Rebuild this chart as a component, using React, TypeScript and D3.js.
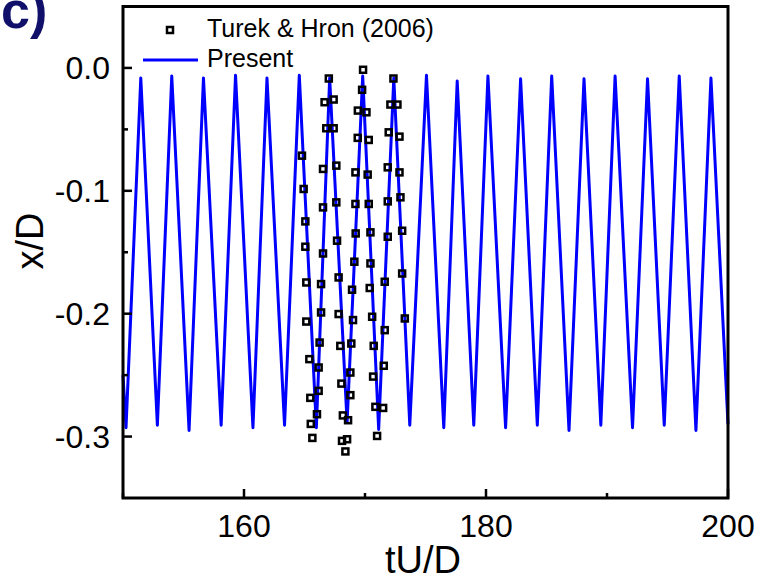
import { useEffect, useRef } from "react";
import * as d3 from "d3";

// Present simulation: x/D of the flag tip vs tU/D (peaks and troughs)
const presentTime = [
  150.0, 150.25, 151.47, 152.84, 154.03, 155.46, 156.65, 158.11, 159.3, 160.74,
  161.9, 163.35, 164.57, 165.98, 167.08, 168.52, 169.81, 171.13, 172.38, 173.7,
  175.08, 176.51, 177.62, 178.99, 180.16, 181.62, 182.86, 184.24, 185.43, 186.86,
  188.1, 189.49, 190.67, 192.11, 193.35, 194.73, 195.97, 197.35, 198.59, 200.0,
];
const presentX = [
  -0.25, -0.2928, -0.0082, -0.2907, -0.0066, -0.295, -0.0082, -0.2907, -0.006, -0.2928,
  -0.0082, -0.2907, -0.006, -0.2928, -0.0082, -0.2885, -0.0066, -0.2942, -0.0082, -0.2907,
  -0.006, -0.2928, -0.0107, -0.2907, -0.0066, -0.2928, -0.0088, -0.2907, -0.0066, -0.295,
  -0.0088, -0.2907, -0.0066, -0.2928, -0.0088, -0.2907, -0.0066, -0.295, -0.0082, -0.29,
];

// Turek & Hron (2006) reference points
const refTime = [
  164.79, 164.93, 165.07, 165.07, 165.15, 165.15, 165.4, 165.48, 165.52, 165.65,
  166.03, 166.17, 166.17, 166.25, 166.37, 166.37, 166.53, 166.53, 166.53, 166.8,
  166.66, 167.01, 167.41, 167.41, 167.63, 167.63, 167.69, 167.82, 167.82, 167.96,
  168.05, 168.17, 168.1, 168.52, 168.38, 168.6, 168.79, 168.79, 168.87, 169.01,
  168.93, 169.12, 169.23, 169.21, 169.21, 169.4, 169.41, 169.76, 169.84, 170.12,
  170.31, 170.22, 170.31, 170.45, 170.45, 170.39, 170.59, 170.72, 170.67, 170.86,
  171.0, 171.5, 171.55, 171.63, 171.63, 171.88, 171.88, 171.88, 171.96, 172.1,
  172.35, 172.68, 172.85, 172.85, 172.93, 173.07, 173.07, 173.29,
];
const refX = [
  -0.0714, -0.0985, -0.1249, -0.1455, -0.1746, -0.2064, -0.237, -0.2685, -0.2897, -0.3011,
  -0.2818, -0.2628, -0.2438, -0.2235, -0.199, -0.1759, -0.151, -0.1135, -0.0822, -0.0491,
  -0.0279, -0.0086, -0.0257, -0.0491, -0.0795, -0.1094, -0.1406, -0.1705, -0.2003, -0.2262,
  -0.2569, -0.2828, -0.3035, -0.3022, -0.3121, -0.2867, -0.2663, -0.2479, -0.2243, -0.2052,
  -0.1805, -0.1577, -0.1347, -0.1107, -0.085, -0.0569, -0.0347, -0.0178, -0.0015, -0.0361,
  -0.0586, -0.0868, -0.1107, -0.1338, -0.1591, -0.1791, -0.2025, -0.2262, -0.2512, -0.2758,
  -0.2995, -0.2767, -0.2424, -0.2134, -0.174, -0.1374, -0.1086, -0.0809, -0.0524, -0.0298,
  -0.0086, -0.0298, -0.0559, -0.085, -0.1053, -0.1325, -0.1673, -0.2039,
];

const xMajor = [160, 180, 200];
const xMinor = [150, 170, 190];
const yMajor = [0, -0.1, -0.2, -0.3];
const yMinor = [-0.05, -0.15, -0.25];

const FONT = "'Liberation Sans', Arial, sans-serif";

export default function App() {
  const svgRef = useRef<SVGSVGElement>(null);
  const width = 762;
  const height = 577;
  const plot = { left: 123, right: 728, top: 6.5, bottom: 498 };

  useEffect(() => {
    const svg = d3.select(svgRef.current);
    svg.selectAll("*").remove();

    const x = d3.scaleLinear().domain([150, 200]).range([plot.left, plot.right]);
    const y = d3.scaleLinear().domain([-0.35, 0.05]).range([plot.bottom, plot.top]);

    // present curve
    const pts = presentTime.map((t, i) => [t, presentX[i]] as [number, number]);
    const line = d3
      .line<[number, number]>()
      .x((d) => x(d[0]))
      .y((d) => y(d[1]));
    svg
      .append("path")
      .attr("d", line(pts))
      .attr("fill", "none")
      .attr("stroke", "#0000ff")
      .attr("stroke-width", 3)
      .attr("stroke-linejoin", "round");

    // reference squares
    const sq = 6;
    svg
      .append("g")
      .selectAll("rect")
      .data(refTime.map((t, i) => [t, refX[i]]))
      .join("rect")
      .attr("x", (d) => x(d[0]) - sq / 2)
      .attr("y", (d) => y(d[1]) - sq / 2)
      .attr("width", sq)
      .attr("height", sq)
      .attr("fill", "none")
      .attr("stroke", "#000")
      .attr("stroke-width", 2.5);

    // frame
    svg
      .append("rect")
      .attr("x", plot.left)
      .attr("y", plot.top)
      .attr("width", plot.right - plot.left)
      .attr("height", plot.bottom - plot.top)
      .attr("fill", "none")
      .attr("stroke", "#000")
      .attr("stroke-width", 3);

    // bottom axis ticks (inward)
    const xAxis = svg.append("g").attr("stroke", "#000").attr("stroke-width", 2.5);
    xMajor.forEach((v) =>
      xAxis.append("line").attr("x1", x(v)).attr("x2", x(v)).attr("y1", plot.bottom).attr("y2", plot.bottom - 9)
    );
    xMinor.forEach((v) =>
      xAxis.append("line").attr("x1", x(v)).attr("x2", x(v)).attr("y1", plot.bottom).attr("y2", plot.bottom - 5)
    );
    svg
      .append("g")
      .selectAll("text")
      .data(xMajor)
      .join("text")
      .attr("x", (d) => x(d))
      .attr("y", 536.5)
      .attr("text-anchor", "middle")
      .attr("font-family", FONT)
      .attr("font-size", 32)
      .text((d) => d3.format("d")(d));

    // left axis ticks (inward)
    const yAxis = svg.append("g").attr("stroke", "#000").attr("stroke-width", 2.5);
    yMajor.forEach((v) =>
      yAxis.append("line").attr("x1", plot.left).attr("x2", plot.left + 9).attr("y1", y(v)).attr("y2", y(v))
    );
    yMinor.forEach((v) =>
      yAxis.append("line").attr("x1", plot.left).attr("x2", plot.left + 5).attr("y1", y(v)).attr("y2", y(v))
    );
    svg
      .append("g")
      .selectAll("text")
      .data(yMajor)
      .join("text")
      .attr("x", 110)
      .attr("y", (d) => y(d) + 11.5)
      .attr("text-anchor", "end")
      .attr("font-family", FONT)
      .attr("font-size", 32)
      .text((d) => d3.format(".1f")(d).replace("−", "-"));

    // axis titles
    svg
      .append("text")
      .attr("x", 423)
      .attr("y", 573)
      .attr("text-anchor", "middle")
      .attr("font-family", FONT)
      .attr("font-size", 38)
      .text("tU/D");
    svg
      .append("text")
      .attr("transform", `translate(43,241) rotate(-90)`)
      .attr("text-anchor", "middle")
      .attr("font-family", FONT)
      .attr("font-size", 38)
      .text("x/D");

    // panel label
    svg
      .append("text")
      .attr("x", 1)
      .attr("y", 28)
      .attr("font-family", FONT)
      .attr("font-weight", "bold")
      .attr("font-size", 52)
      .attr("fill", "#10106b")
      .text("c)");

    // legend
    const legend = svg.append("g").attr("font-family", FONT).attr("font-size", 25);
    legend
      .append("rect")
      .attr("x", 167)
      .attr("y", 27)
      .attr("width", 6)
      .attr("height", 6)
      .attr("fill", "none")
      .attr("stroke", "#000")
      .attr("stroke-width", 2.5);
    legend.append("text").attr("x", 207).attr("y", 37).text("Turek & Hron (2006)");
    legend
      .append("line")
      .attr("x1", 143)
      .attr("x2", 198)
      .attr("y1", 60)
      .attr("y2", 60)
      .attr("stroke", "#0000ff")
      .attr("stroke-width", 3);
    legend.append("text").attr("x", 207).attr("y", 67).text("Present");
  }, []);

  return (
    <svg
      ref={svgRef}
      width={width}
      height={height}
      style={{ position: "absolute", left: 0, top: 0, background: "#fff" }}
    />
  );
}
